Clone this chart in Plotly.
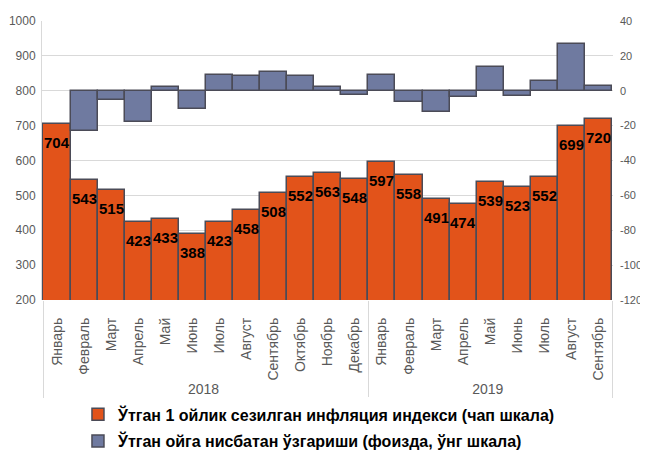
import plotly.graph_objects as go

years = ["2018"] * 12 + ["2019"] * 9
months = ["Январь", "Февраль", "Март", "Апрель", "Май", "Июнь", "Июль", "Август",
          "Сентябрь", "Октябрь", "Ноябрь", "Декабрь",
          "Январь", "Февраль", "Март", "Апрель", "Май", "Июнь", "Июль", "Август", "Сентябрь"]
index_vals = [704, 543, 515, 423, 433, 388, 423, 458, 508, 552, 563, 548,
              597, 558, 491, 474, 539, 523, 552, 699, 720]
change_vals = [None, -22.9, -5.2, -17.9, 2.4, -10.4, 9.0, 8.3, 10.9, 8.7, 2.0, -2.7,
               8.9, -6.5, -12.0, -3.5, 13.7, -3.0, 5.5, 26.6, 3.0]
right_ticks = [-120, -100, -80, -60, -40, -20, 0, 20, 40]
right_tick_labels = ["-120", "-100", "-80", "-60", "-40", "-20", "0", "20", "40"]

name1 = "Ўтган 1 ойлик сезилган инфляция индекси (чап шкала)"
name2 = "Ўтган ойга нисбатан ўзгариши (фоизда, ўнг шкала)"

x = [years, months]
edge = "#4b4b57"
font_main = "Liberation Sans, Arial"

fig = go.Figure()
fig.add_trace(go.Bar(x=x, y=index_vals, name=name1, legendgroup="a",
                     marker=dict(color="#E2531A", line=dict(color=edge, width=1.5)),
                     width=1, yaxis="y"))
fig.add_trace(go.Bar(x=x, y=change_vals, name=name2, legendgroup="b",
                     marker=dict(color="#6F7AA0", line=dict(color=edge, width=1.5)),
                     width=1, yaxis="y2"))

for i, v in enumerate(index_vals):
    fig.add_annotation(x=i, y=v, xref="x", yref="y", text=f"<b>{v}</b>", showarrow=False,
                       yanchor="top", yshift=-8,
                       font=dict(family=font_main, size=15, color="black"))

fig.update_layout(
    width=640, height=470,
    margin=dict(l=34, r=35, t=13, b=178),
    paper_bgcolor="white", plot_bgcolor="white",
    barmode="overlay", bargap=0,
    font=dict(family=font_main, size=12, color="#595959"),
    xaxis=dict(type="multicategory", tickangle=-90, showgrid=False, showline=False,
               showdividers=True, dividercolor="#d9d9d9", dividerwidth=1,
               tickfont=dict(size=14, color="#595959"), ticks="", automargin=False,
               ticklabelstandoff=14),
    yaxis=dict(range=[200, 1000], dtick=100, showgrid=True, gridcolor="#d9d9d9", gridwidth=1,
               showline=True, linecolor="#d9d9d9", zeroline=False, ticks="",
               ticklabelstandoff=3, automargin=False,
               tickfont=dict(size=12, color="#595959")),
    yaxis2=dict(range=[-120, 40], tickmode="array", tickvals=right_ticks, ticktext=right_tick_labels,
                overlaying="y", side="right", showgrid=False,
                zeroline=False, showline=False, ticks="", ticklabelstandoff=6, automargin=False,
                tickfont=dict(size=11, color="#595959")),
    legend=dict(orientation="v", x=0.063, xanchor="left", y=-0.349, yanchor="top",
                font=dict(family=font_main, size=16, color="black", weight="bold"),
                tracegroupgap=3),
)

fig.write_html("out.html")
